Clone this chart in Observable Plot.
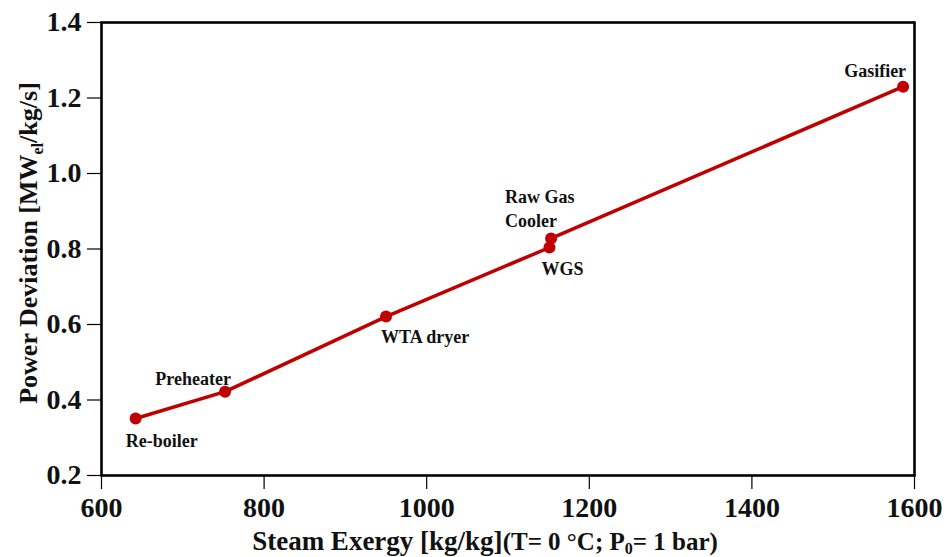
<!DOCTYPE html>
<html>
<head>
<meta charset="utf-8">
<script src="https://cdn.jsdelivr.net/npm/d3@7"></script>
<script src="https://cdn.jsdelivr.net/npm/@observablehq/plot@0.6"></script>
<style>
  html, body { margin: 0; padding: 0; background: #fff; }
  svg { display: block; }
</style>
</head>
<body>
<div id="chart"></div>
<script>
const components = ["Re-boiler", "Preheater", "WTA dryer", "WGS", "Raw Gas Cooler", "Gasifier"];
const steamExergy = [642, 752, 950, 1151, 1153, 1586];
const powerDeviation = [0.351, 0.422, 0.621, 0.804, 0.828, 1.230];
const xTicks = [600, 800, 1000, 1200, 1400, 1600];
const yTicks = [0.2, 0.4, 0.6, 0.8, 1.0, 1.2, 1.4];
const labelLines = [["Re-boiler"], ["Preheater"], ["WTA dryer"], ["WGS"], ["Raw Gas", "Cooler"], ["Gasifier"]];

const data = components.map((c, i) => ({name: c, x: steamExergy[i], y: powerDeviation[i]}));

// label placement offsets (px) relative to point
const offsets = {
  "Re-boiler": {dx: 26, dy: 21, anchor: "middle"},
  "Preheater": {dx: -32, dy: -14, anchor: "middle"},
  "WTA dryer": {dx: 39, dy: 19, anchor: "middle"},
  "WGS": {dx: 13, dy: 20, anchor: "middle"},
  "Raw Gas Cooler": {dx: -46, dy: -31, anchor: "start"},
  "Gasifier": {dx: -28, dy: -17, anchor: "middle"}
};

const red = "#c00000";
const font = "'Liberation Serif', 'Times New Roman', serif";

const labelMarks = data.map((d, i) => {
  const o = offsets[d.name];
  return Plot.text([d], {
    x: "x", y: "y",
    text: () => labelLines[i].join("\n"),
    dx: o.dx, dy: o.dy,
    textAnchor: o.anchor,
    lineHeight: 1.35,
    fontSize: 18,
    fontWeight: "bold",
    fill: "#111"
  });
});

const chart = Plot.plot({
  width: 949,
  height: 557,
  marginLeft: 101,
  marginRight: 35,
  marginTop: 22,
  marginBottom: 82,
  style: {fontFamily: font, background: "#fff"},
  x: {domain: [600, 1600], label: null},
  y: {domain: [0.2, 1.4], label: null},
  marks: [
    Plot.axisX({ticks: xTicks, tickSize: 14, tickPadding: 8, fontSize: 28, fontWeight: "bold", label: null, tickFormat: d3.format("d"), stroke: "#000", strokeWidth: 1.2, fill: "#111"}),
    Plot.axisY({ticks: yTicks, tickSize: 14, tickPadding: 6, fontSize: 28, fontWeight: "bold", label: null, tickFormat: d3.format(".1f"), stroke: "#000", strokeWidth: 1.2, fill: "#111"}),
    Plot.frame({stroke: "#000", strokeWidth: 2.6}),
    Plot.line(data, {x: "x", y: "y", stroke: red, strokeWidth: 3.5}),
    Plot.dot(data, {x: "x", y: "y", r: 6, fill: red, stroke: null}),
    ...labelMarks
  ]
});

document.getElementById("chart").appendChild(chart);

const svg = d3.select(chart);
// x axis title
const xt = svg.append("text")
  .attr("x", 485).attr("y", 550)
  .attr("text-anchor", "middle")
  .attr("font-family", font)
  .attr("font-weight", "bold")
  .attr("font-size", 27)
  .attr("fill", "#111");
xt.append("tspan").text("Steam Exergy [kg/kg]");
xt.append("tspan").attr("font-size", 25).text("(T= 0 °C; P");
xt.append("tspan").attr("font-size", 16).attr("dy", 4).text("0");
xt.append("tspan").attr("font-size", 25).attr("dy", -4).text("= 1 bar)");

// y axis title
const yt = svg.append("text")
  .attr("transform", "translate(37,243) rotate(-90)")
  .attr("text-anchor", "middle")
  .attr("font-family", font)
  .attr("font-weight", "bold")
  .attr("font-size", 26)
  .attr("fill", "#111");
yt.append("tspan").text("Power Deviation [MW");
yt.append("tspan").attr("font-size", 16).attr("dy", 6).text("el");
yt.append("tspan").attr("dy", -6).text("/kg/s]");
</script>
</body>
</html>
